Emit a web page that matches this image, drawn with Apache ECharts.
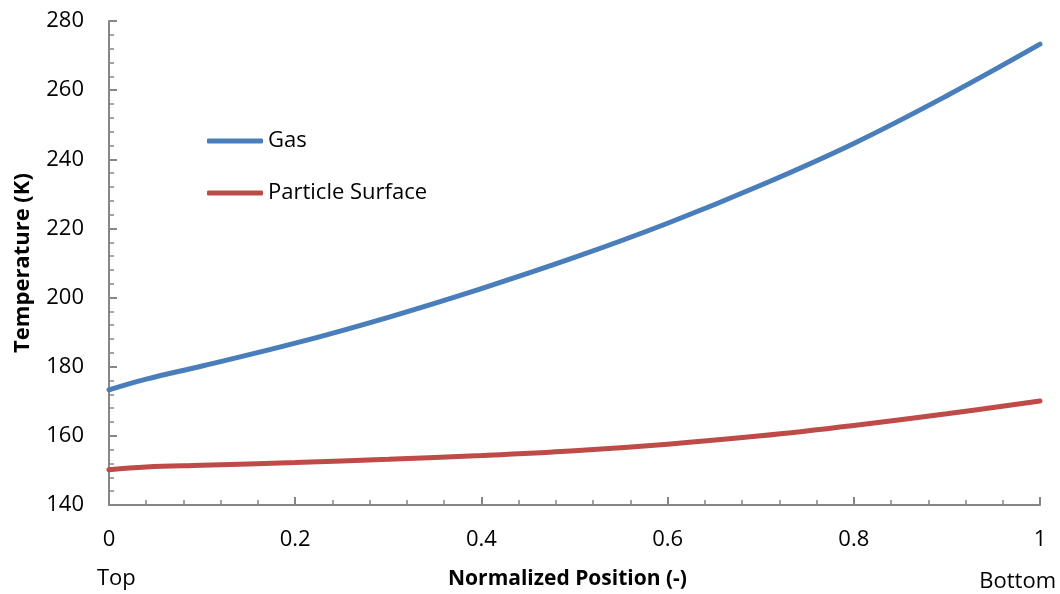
<!DOCTYPE html>
<html>
<head>
<meta charset="utf-8">
<script src="https://cdn.jsdelivr.net/npm/echarts@6/dist/echarts.min.js"></script>
<style>
html,body{margin:0;padding:0;background:#fff;}
#chart{width:1060px;height:594px;}
</style>
</head>
<body>
<div id="chart"></div>
<script>
const positions = [0, 0.04, 0.1, 0.2, 0.3, 0.4, 0.5, 0.6, 0.7, 0.8, 0.9, 1.0];
const gasTemp = [173.3, 176.4, 180.2, 186.8, 194.3, 202.6, 211.6, 221.5, 232.5, 244.6, 258.4, 273.3];
const particleTemp = [150.2, 151.0, 151.5, 152.3, 153.2, 154.3, 155.7, 157.6, 160.0, 163.0, 166.4, 170.1];
const seriesNames = ['Gas', 'Particle Surface'];
const xAxisTitle = 'Normalized Position (-)';
const yAxisTitle = 'Temperature (K)';
const endLabels = ['Top', 'Bottom'];

const FONT = 'Open Sans';
const axisColor = '#868686';
const colors = ['#4A7EBB', '#BE4B48'];

const chart = echarts.init(document.getElementById('chart'), null, {renderer: 'canvas'});
const toPairs = (xs, ys) => xs.map((x, i) => [x, ys[i]]);

chart.setOption({
  animation: false,
  backgroundColor: '#ffffff',
  textStyle: {fontFamily: FONT},
  grid: {left: 109, right: 20, top: 21, bottom: 89, containLabel: false, outerBoundsMode: 'none'},
  legend: {
    orient: 'vertical',
    left: 207, top: 129, padding: 0,
    icon: 'roundRect',
    itemWidth: 56, itemHeight: 5, itemGap: 28,
    data: seriesNames,
    textStyle: {fontFamily: FONT, fontSize: 22, lineHeight: 24, color: '#000'}
  },
  xAxis: {
    type: 'value', min: 0, max: 1, interval: 0.2,
    name: xAxisTitle, nameLocation: 'middle', nameGap: 64,
    nameTextStyle: {fontFamily: FONT, fontSize: 21, fontWeight: 'bold', color: '#000', padding: [0, 14, 0, 0]},
    axisLine: {show: true, lineStyle: {color: axisColor, width: 2}},
    axisTick: {show: true, inside: true, length: 8, lineStyle: {color: axisColor, width: 2}},
    minorTick: {show: true, splitNumber: 5, length: 5, lineStyle: {color: axisColor, width: 1.5}},
    splitLine: {show: false},
    axisLabel: {fontFamily: FONT, fontSize: 22, color: '#000', margin: 24,
      formatter: v => String(Math.round(v * 10) / 10)}
  },
  yAxis: {
    type: 'value', min: 140, max: 280, interval: 20,
    name: yAxisTitle, nameLocation: 'middle', nameGap: 75, nameRotate: 90,
    nameTextStyle: {fontFamily: FONT, fontSize: 22, fontWeight: 'bold', color: '#000'},
    axisLine: {show: true, lineStyle: {color: axisColor, width: 2}},
    axisTick: {show: true, inside: true, length: 8, lineStyle: {color: axisColor, width: 2}},
    minorTick: {show: true, splitNumber: 5, length: 5, lineStyle: {color: axisColor, width: 1.5}},
    splitLine: {show: false},
    axisLabel: {fontFamily: FONT, fontSize: 22, color: '#000', margin: 25}
  },
  graphic: [
    {type: 'text', left: 97, top: 568, style: {text: endLabels[0], font: '22px "' + FONT + '"', fill: '#000'}},
    {type: 'text', right: 4, top: 571, style: {text: endLabels[1], font: '22px "' + FONT + '"', fill: '#000'}}
  ],
  series: [
    {
      name: seriesNames[0], type: 'line', data: toPairs(positions, gasTemp),
      smooth: 0.4, symbol: 'none',
      lineStyle: {color: colors[0], width: 5, cap: 'round'},
      itemStyle: {color: colors[0]}
    },
    {
      name: seriesNames[1], type: 'line', data: toPairs(positions, particleTemp),
      smooth: 0.4, symbol: 'none',
      lineStyle: {color: colors[1], width: 5, cap: 'round'},
      itemStyle: {color: colors[1]}
    }
  ]
});
</script>
</body>
</html>
